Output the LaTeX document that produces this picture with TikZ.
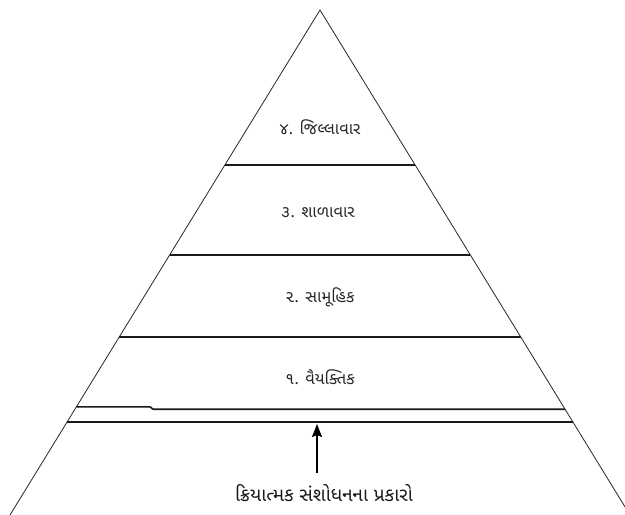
\documentclass[tikz,border=0pt]{standalone}
\usepackage{fontspec}
\newfontfamily\guj[Script=Gujarati]{Noto Sans Gujarati UI}
\usetikzlibrary{arrows.meta,calc}
\begin{document}
\begin{tikzpicture}[x=1pt,y=-1pt,
  side/.style={line width=0.8pt, black!85},
  level/.style={line width=1.2pt, black!90},
  steplevel/.style={line width=1.6pt, black!90},
  lbl/.style={font=\guj\fontsize{16.5}{20}\selectfont, text=black!85, inner sep=0pt},
  ttl/.style={font=\guj\fontsize{19}{22}\selectfont, text=black!90, inner sep=0pt},
  uparrow/.style={line width=2pt, -{Stealth[length=13pt,width=10pt,inset=2pt]}}]
\useasboundingbox (0,0) rectangle (625,515);
\clip (0,0) rectangle (625,515);
\coordinate (apex) at (320,10);
\coordinate (bl) at (10,515);
\coordinate (br) at (630,515);
\draw[side] (bl) -- (apex) -- (br);
% levels
\draw[level] ($(apex)!0.30693!(bl)$) -- ($(apex)!0.30693!(br)$);
\draw[level] ($(apex)!0.48515!(bl)$) -- ($(apex)!0.48515!(br)$);
\draw[level] ($(apex)!0.64752!(bl)$) -- ($(apex)!0.64752!(br)$);
\coordinate (s1) at (150,406.8);
\coordinate (s2) at (153,409.2);
\draw[steplevel] ($(apex)!0.78574!(bl)$) -- (s1);
\draw[steplevel] (s1) -- (s2);
\draw[steplevel] (s2) -- ($(apex)!0.79050!(br)$);
\draw[level] ($(apex)!0.81584!(bl)$) -- ($(apex)!0.81584!(br)$);
% labels
\node[lbl] (l4) at (320,127) {૪. જિલ્લાવાર};
\node[lbl] (l3) at (318,213) {૩. શાળાવાર};
\node[lbl] (l2) at (320,297) {૨. સામૂહિક};
\node[lbl] (l1) at (320,377) {૧. વૈયક્તિક};
\node[ttl] (title) at (324,493) {ક્રિયાત્મક સંશોધનના પ્રકારો};
\coordinate (tail) at (317,473);
\coordinate (tip) at (317,424);
\draw[uparrow] (tail) -- (tip);
\end{tikzpicture}
\end{document}
